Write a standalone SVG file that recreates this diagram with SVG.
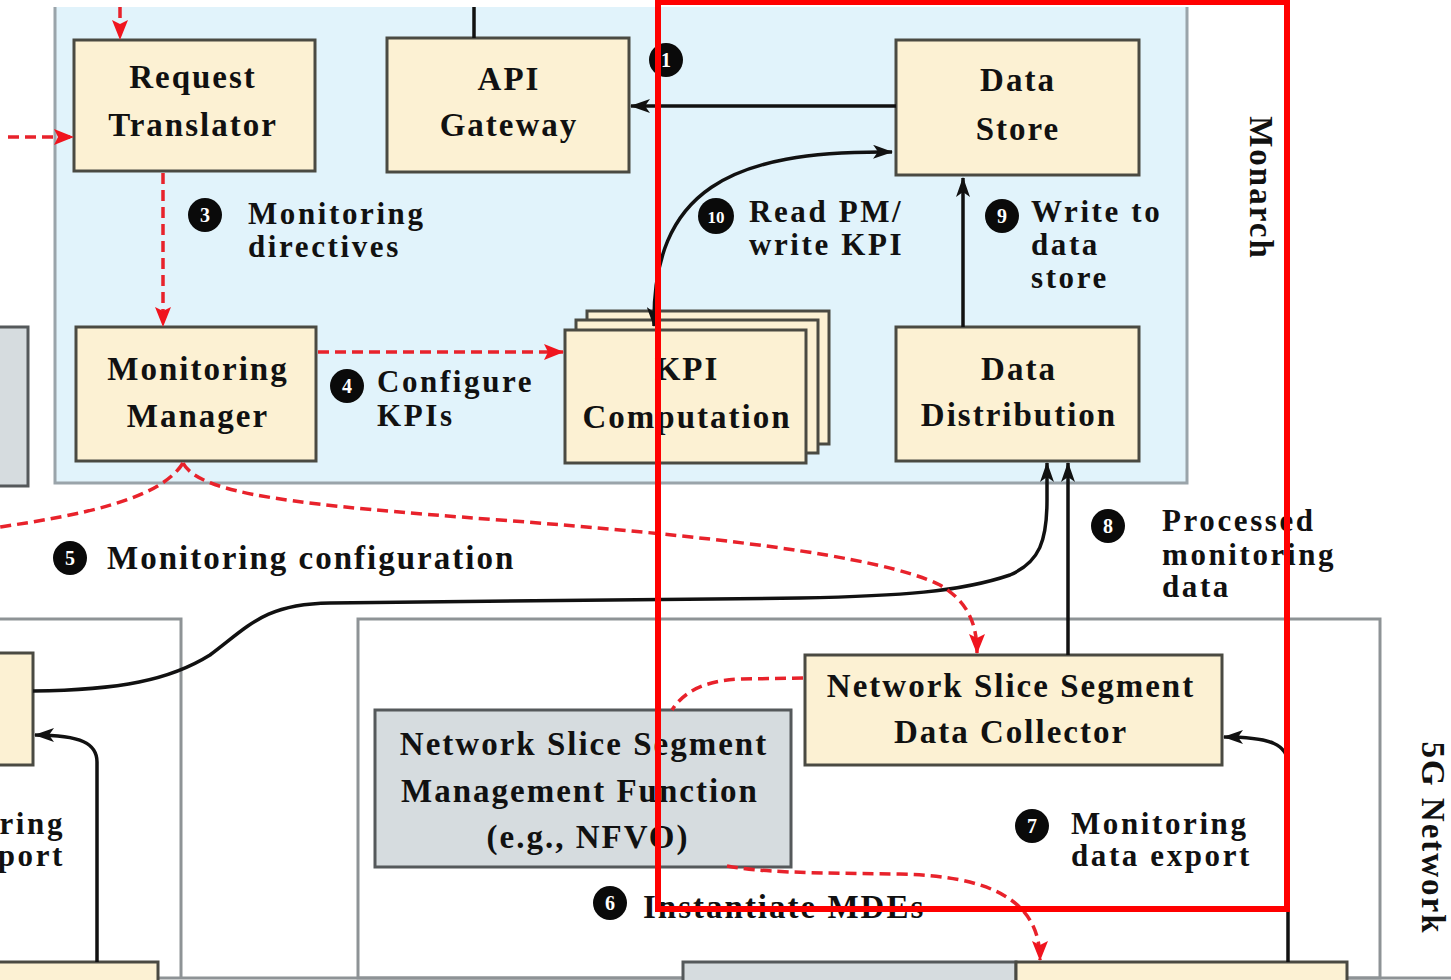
<svg xmlns="http://www.w3.org/2000/svg" width="1451" height="980" viewBox="0 0 1451 980">
  <style>
    .lbl { font-family: "Liberation Serif", "Times New Roman", serif; font-weight: bold; font-size: 33px; letter-spacing: 2px; fill: #111; }
    .sm { font-size: 31px; letter-spacing: 2.6px; }
    .mid { text-anchor: middle; }
    .box { fill: #fcf1d3; stroke: #4a4a42; stroke-width: 3; }
    .gbox { fill: #d6dcdf; stroke: #55595b; stroke-width: 3; }
    .frame { fill: none; stroke: #8e9396; stroke-width: 3; }
    .blk { fill: none; stroke: #111; stroke-width: 3.5; }
    .red { fill: none; stroke: #e8222b; stroke-width: 3.5; stroke-dasharray: 11 6; }
    .step circle { fill: #0a0a0a; }
    .step text { font-family: "Liberation Serif", "Times New Roman", serif; font-weight: bold; font-size: 20px; fill: #fff; text-anchor: middle; }
  </style>
  <defs>
    <marker id="ak" viewBox="0 0 20 14" refX="19" refY="7" markerWidth="20" markerHeight="14" orient="auto-start-reverse" markerUnits="userSpaceOnUse">
      <path d="M0,0 L20,7 L0,14 L5,7 Z" fill="#111"/>
    </marker>
    <marker id="ar" viewBox="0 0 20 16" refX="19" refY="8" markerWidth="20" markerHeight="16" orient="auto" markerUnits="userSpaceOnUse">
      <path d="M0,0 L20,8 L0,16 L4,8 Z" fill="#f0141e"/>
    </marker>
  </defs>

  <rect x="0" y="0" width="1451" height="980" fill="#fff"/>

  <!-- Monarch panel -->
  <g id="monarch">
    <rect x="55" y="7" width="1132" height="476" fill="#e1f3fb"/>
    <path d="M55,7 L55,483 L1187,483 L1187,7" fill="none" stroke="#9aa4aa" stroke-width="3"/>
    <text class="lbl mid" transform="translate(1250,188) rotate(90)">Monarch</text>
  </g>

  <!-- 5G network frames -->
  <g id="network">
    <path class="frame" d="M-5,619 L181,619 L181,978"/>
    <rect class="frame" x="358" y="619" width="1022" height="359"/>
    <line x1="0" y1="978" x2="1451" y2="978" stroke="#8e9396" stroke-width="3"/>
    <text class="lbl mid" transform="translate(1422,838) rotate(90)">5G Network</text>
  </g>

  <!-- Partially visible neighbouring blocks -->
  <g id="left-gray-block"><rect class="gbox" x="-5" y="327" width="33" height="159"/></g>
  <g id="left-cream-block"><rect class="box" x="-5" y="653" width="38" height="112"/></g>
  <g id="left-bottom-block"><rect class="box" x="-5" y="962" width="163" height="40"/></g>
  <g id="bottom-gray-block"><rect class="gbox" x="683" y="962" width="333" height="40"/></g>
  <g id="bottom-cream-block"><rect class="box" x="1016" y="962" width="331" height="40"/></g>

  <!-- Monarch components -->
  <g id="request-translator">
    <rect class="box" x="74" y="40" width="241" height="131"/>
    <text class="lbl mid" x="193" y="88">Request</text>
    <text class="lbl mid" x="193" y="136">Translator</text>
  </g>
  <g id="api-gateway">
    <rect class="box" x="387" y="38" width="242" height="134"/>
    <text class="lbl mid" x="509" y="90">API</text>
    <text class="lbl mid" x="509" y="136">Gateway</text>
  </g>
  <g id="data-store">
    <rect class="box" x="896" y="40" width="243" height="135"/>
    <text class="lbl mid" x="1018" y="91">Data</text>
    <text class="lbl mid" x="1018" y="140">Store</text>
  </g>
  <g id="monitoring-manager">
    <rect class="box" x="76" y="327" width="240" height="134"/>
    <text class="lbl mid" x="198" y="380">Monitoring</text>
    <text class="lbl mid" x="198" y="427">Manager</text>
  </g>
  <g id="kpi-computation">
    <rect class="box" x="587" y="311" width="242" height="133"/>
    <rect class="box" x="576" y="320" width="242" height="133"/>
    <rect class="box" x="565" y="330" width="241" height="133"/>
    <text class="lbl mid" x="687" y="380">KPI</text>
    <text class="lbl mid" x="687" y="428">Computation</text>
  </g>
  <g id="data-distribution">
    <rect class="box" x="896" y="327" width="243" height="134"/>
    <text class="lbl mid" x="1019" y="380">Data</text>
    <text class="lbl mid" x="1019" y="426">Distribution</text>
  </g>

  <!-- Network components -->
  <g id="nss-data-collector">
    <rect class="box" x="805" y="655" width="417" height="110"/>
    <text class="lbl mid" x="1011" y="697">Network Slice Segment</text>
    <text class="lbl mid" x="1011" y="743">Data Collector</text>
  </g>
  <g id="nss-management-function">
    <rect class="gbox" x="375" y="710" width="416" height="157"/>
    <text class="lbl mid" x="584" y="755">Network Slice Segment</text>
    <text class="lbl mid" x="580" y="802">Management Function</text>
    <text class="lbl mid" x="588" y="848">(e.g., NFVO)</text>
  </g>

  <!-- Connectors -->
  <g id="connectors">
    <path class="blk" d="M474,7 L474,38"/>
    <path class="blk" d="M896,106 L631,106" marker-end="url(#ak)"/>
    <path class="blk" d="M892,152 C 730,150 652,190 654,326" marker-start="url(#ak)" marker-end="url(#ak)"/>
    <path class="blk" d="M963,327 L963,178" marker-end="url(#ak)"/>
    <path class="blk" d="M1068,655 L1068,463" marker-end="url(#ak)"/>
    <path class="blk" d="M33,691 C 120,690 170,680 210,655 C 250,625 265,604 330,603 L 800,598 C 900,596 960,592 1010,575 C 1040,562 1047,540 1047,500 L 1047,463" marker-end="url(#ak)"/>
    <path class="blk" d="M1288,962 L1288,765 C 1288,745 1272,737 1224,737" marker-end="url(#ak)"/>
    <path class="blk" d="M97,962 L97,762 C 97,744 82,735 35,735" marker-end="url(#ak)"/>

    <path class="red" d="M120,7 L120,39" marker-end="url(#ar)"/>
    <path class="red" d="M8,137 L73,137" marker-end="url(#ar)"/>
    <path class="red" d="M163,173 L163,326" marker-end="url(#ar)"/>
    <path class="red" d="M318,352 L563,352" marker-end="url(#ar)"/>
    <path class="red" d="M183,463 C 200,495 300,505 500,520 C 700,535 880,555 940,585 C 965,600 977,620 977,653" marker-end="url(#ar)"/>
    <path class="red" d="M183,463 C 160,500 80,515 0,527"/>
    <path class="red" d="M803,678 L742,679 C 702,680 682,694 672,710"/>
    <path class="red" d="M727,866 C 760,872 800,873 900,874 C 990,876 1040,900 1040,960" marker-end="url(#ar)"/>
  </g>

  <!-- Step labels -->
  <g id="labels">
    <g class="step"><circle cx="666" cy="60" r="17"/><text x="666" y="67">1</text></g>

    <g class="step"><circle cx="205" cy="215" r="17"/><text x="205" y="222">3</text></g>
    <text class="lbl sm" x="248" y="224">Monitoring</text>
    <text class="lbl sm" x="248" y="257">directives</text>

    <g class="step"><circle cx="347" cy="386" r="17"/><text x="347" y="393">4</text></g>
    <text class="lbl sm" x="377" y="392">Configure</text>
    <text class="lbl sm" x="377" y="426">KPIs</text>

    <g class="step"><circle cx="716" cy="216" r="18"/><text x="716" y="223" style="font-size:17px">10</text></g>
    <text class="lbl sm" x="749" y="222">Read PM/</text>
    <text class="lbl sm" x="749" y="255">write KPI</text>

    <g class="step"><circle cx="1002" cy="216" r="17"/><text x="1002" y="223">9</text></g>
    <text class="lbl sm" x="1031" y="222">Write to</text>
    <text class="lbl sm" x="1031" y="255">data</text>
    <text class="lbl sm" x="1031" y="288">store</text>

    <g class="step"><circle cx="70" cy="558" r="17"/><text x="70" y="565">5</text></g>
    <text class="lbl" x="107" y="569">Monitoring configuration</text>

    <g class="step"><circle cx="1108" cy="526" r="17"/><text x="1108" y="533">8</text></g>
    <text class="lbl sm" x="1162" y="531">Processed</text>
    <text class="lbl sm" x="1162" y="565">monitoring</text>
    <text class="lbl sm" x="1162" y="597">data</text>

    <g class="step"><circle cx="1032" cy="826" r="17"/><text x="1032" y="833">7</text></g>
    <text class="lbl sm" x="1071" y="834">Monitoring</text>
    <text class="lbl sm" x="1071" y="866">data export</text>

    <text class="lbl sm" x="65" y="834" text-anchor="end">ring</text>
    <text class="lbl sm" x="65" y="866" text-anchor="end">port</text>

    <g class="step"><circle cx="610" cy="903" r="17"/><text x="610" y="910">6</text></g>
    <text class="lbl" x="643" y="918">Instantiate MDEs</text>
  </g>

  <!-- Highlight frame -->
  <rect x="658" y="2" width="629" height="907" fill="none" stroke="#ff0000" stroke-width="6"/>
</svg>
